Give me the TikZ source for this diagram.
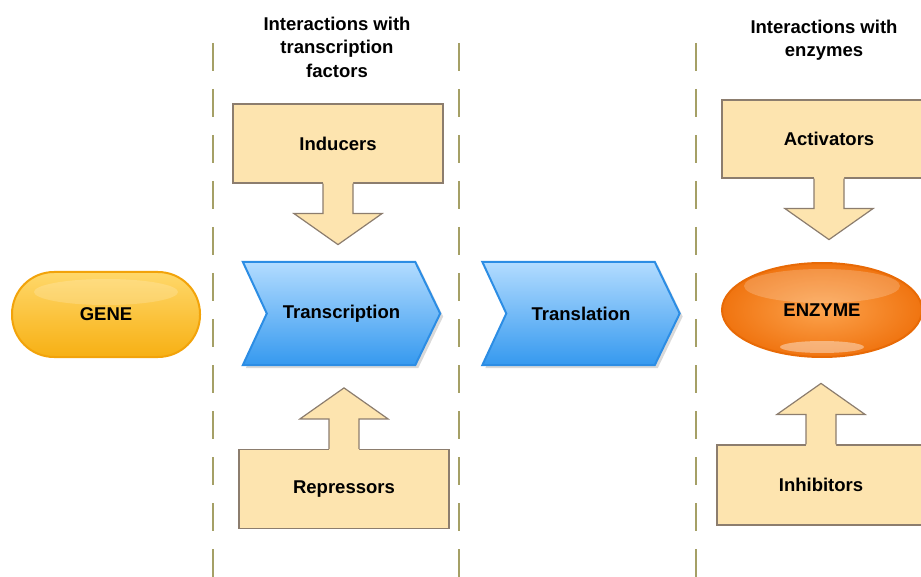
\documentclass[tikz,border=0pt]{standalone}
\usepackage{fontspec}
\setmainfont{Liberation Sans}
\usetikzlibrary{calc,backgrounds,shapes.geometric}

\definecolor{boxfill}{HTML}{FDE4AF}
\definecolor{boxedge}{HTML}{8C7D6E}
\definecolor{dashcol}{HTML}{A5A066}
\definecolor{chevtop}{HTML}{B3DCFF}
\definecolor{chevmid}{HTML}{6AB7FA}
\definecolor{chevbot}{HTML}{3599EF}
\definecolor{chevedge}{HTML}{2C8DE4}
\definecolor{genetop}{HTML}{FFD86A}
\definecolor{genebot}{HTML}{F7B014}
\definecolor{geneedge}{HTML}{F2A30A}
\definecolor{enzin}{HTML}{FCA24C}
\definecolor{enzout}{HTML}{F07410}
\definecolor{enzedge}{HTML}{E86A06}

% block arrow hanging from a box: #1 base point, #2 = 1 (down) or -1 (up), #3 name of the tip
\newcommand{\blockarrow}[3]{%
  \begin{scope}[shift={(#1)}, yscale=#2]
    \fill[boxfill] (-15,-2) -- (-15,30) -- (-44,30) -- (0,61) -- (44,30) -- (15,30) -- (15,-2) -- cycle;
    \draw[boxline] (-15,0) -- (-15,30) -- (-44,30) -- (0,61) coordinate (#3) -- (44,30) -- (15,30) -- (15,0);
  \end{scope}}

\begin{document}
\begin{tikzpicture}[x=1pt, y=-1pt,
    every node/.style={font=\fontsize{18.5}{23.5}\selectfont\bfseries, text=black},
    boxline/.style={draw=boxedge, line width=1.2pt, line join=miter},
    factorbox/.style={boxline, fill=boxfill, minimum width=210pt, minimum height=79pt, inner sep=0pt},
    stage/.style={minimum width=197pt, minimum height=103pt, inner sep=0pt},
    chev/.style={top color=chevtop, middle color=chevmid, bottom color=chevbot, draw=chevedge, line width=2pt, line join=miter},
    header/.style={align=center, inner sep=0pt},
    separator/.style={draw=dashcol, line width=2.5pt, dash pattern=on 28pt off 18pt},
    gene/.style={rectangle, rounded corners=42pt, minimum width=188pt, minimum height=85pt,
      top color=genetop, bottom color=genebot, draw=geneedge, line width=2pt},
    enzyme/.style={ellipse, minimum width=200pt, minimum height=94pt, inner sep=0pt,
      inner color=enzin, outer color=enzout, draw=enzedge, line width=2pt}]

\useasboundingbox (0,0) rectangle (921,577);
\clip (0,0) rectangle (921,577);

% section separators
\draw[separator] (213,43) -- (213,577);
\draw[separator] (459,43) -- (459,577);
\draw[separator] (696,43) -- (696,577);

% headers
\node[header] (hdrtf) at (337,47) {Interactions with\\transcription\\factors};
\node[header] (hdrenz) at (824,40) {Interactions with\\enzymes};

% gene
\node[gene] (gene) at (106,314.5) {};
\fill[white, opacity=.18] (106,292) ellipse [x radius=72, y radius=13];
\node at (gene) {GENE};

% expression stages
\node[stage] (trans) at (341.5,313.5) {Transcription};
\node[stage] (transl) at (581,313.5) {Translation};
\begin{scope}[on background layer]
  \foreach \n in {trans,transl} {
    \fill[black, opacity=.15]
      ($(\n.north west)+(3,3)$) -- ($(\n.north east)+(-22,3)$) -- ($(\n.east)+(3,3)$) --
      ($(\n.south east)+(-22,3)$) -- ($(\n.south west)+(3,3)$) -- ($(\n.west)+(27,3)$) -- cycle;
    \shade[chev]
      (\n.north west) -- ($(\n.north east)+(-25,0)$) -- (\n.east) --
      ($(\n.south east)+(-25,0)$) -- (\n.south west) -- ($(\n.west)+(24,0)$) -- cycle;
  }
\end{scope}

% enzyme
\node[enzyme] (enz) at (822,310) {};
\fill[white, opacity=.2] (822,286) ellipse [x radius=78, y radius=17];
\fill[white, opacity=.4] (822,347) ellipse [x radius=42, y radius=6];
\node at (enz) {ENZYME};

% transcription factors
\node[factorbox] (ind) at (338,143.5) {Inducers};
\blockarrow{ind.south}{1}{indtip}
\node[factorbox] (rep) at (344,489) {Repressors};
\blockarrow{rep.north}{-1}{reptip}

% enzyme effectors
\node[factorbox, minimum width=214pt, minimum height=78pt] (act) at (829,139) {Activators};
\blockarrow{act.south}{1}{acttip}
\node[factorbox, minimum width=208pt, minimum height=80pt] (inh) at (821,485) {Inhibitors};
\blockarrow{inh.north}{-1}{inhtip}

\end{tikzpicture}
\end{document}
